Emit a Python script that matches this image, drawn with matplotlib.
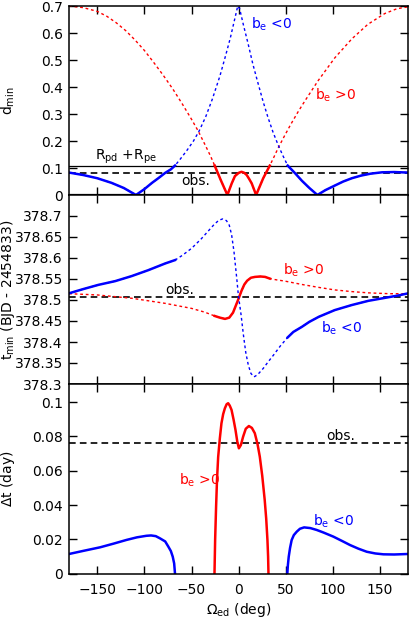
import numpy as np
import matplotlib
matplotlib.use("Agg")
import matplotlib.pyplot as plt
from matplotlib.ticker import FuncFormatter

plt.rcParams['font.family'] = ['DejaVu Sans']
plt.rcParams['mathtext.default'] = 'regular'
plt.rcParams['font.size'] = 10

BLUE = '#0000ff'
RED = '#ff0000'

# --- panel 1: d_min ---
om_dmin_neg = [-180, -165, -150, -135, -122, -109, -100, -92, -85, -78, -72, -67.6,
               -62, -55, -48, -42, -35, -28, -20, -14, -9, -5, -1,
               1, 5, 10, 15, 20.5, 26, 31, 36.5, 42, 47, 52,
               60, 67, 75, 83.5, 92, 102, 111, 120, 130, 140, 152, 165, 180]
dmin_neg = [0.083, 0.074, 0.062, 0.045, 0.026, 0.0, 0.022, 0.045, 0.063, 0.082, 0.095, 0.109,
            0.133, 0.165, 0.200, 0.237, 0.29, 0.355, 0.44, 0.515, 0.58, 0.64, 0.70,
            0.69, 0.63, 0.56, 0.485, 0.414, 0.345, 0.288, 0.232, 0.184, 0.145, 0.109,
            0.08, 0.053, 0.026, 0.0, 0.018, 0.035, 0.05, 0.062, 0.072, 0.079, 0.084, 0.085, 0.083]

om_dmin_pos = [-180, -165, -150, -140, -130, -120, -110, -100, -90, -80, -70, -60, -50, -43,
               -35, -30, -25.5,
               -19, -12, -7.4, -4, 0, 3, 6, 8.5, 11, 13.8, 18.5, 26, 33,
               38, 42, 48, 55, 63, 70, 84, 102, 120, 137, 155, 168, 180]
dmin_pos = [0.700, 0.694, 0.680, 0.662, 0.638, 0.609, 0.574, 0.535, 0.49, 0.443, 0.393, 0.338,
            0.28, 0.237, 0.181, 0.145, 0.109,
            0.055, 0.0, 0.043, 0.070, 0.082, 0.086, 0.082, 0.074, 0.06, 0.043, 0.0, 0.062, 0.109,
            0.145, 0.175, 0.215, 0.26, 0.308, 0.347, 0.422, 0.508, 0.578, 0.632, 0.672, 0.69, 0.697]

r_sum = 0.109
dmin_obs = 0.083

# --- panel 2: t_min ---
om_tmin_neg = [-180, -165, -149, -131, -113.5, -96, -78, -67.6, -60, -50, -40, -32, -26, -21,
               -17, -13, -10, -7.5, -5, -3.9, -2, -0.4, 2.5, 5, 7.5, 10.2, 13, 16.3, 20, 26,
               31, 37, 44, 52, 58, 67, 75, 85, 102, 120, 137.6, 155, 170, 180]
tmin_neg = [378.516, 378.526, 378.536, 378.545, 378.557, 378.571, 378.587, 378.595, 378.606,
            378.623, 378.645, 378.665, 378.68, 378.69, 378.693, 378.689, 378.678, 378.655,
            378.615, 378.591, 378.55, 378.512, 378.465, 378.417, 378.375, 378.345, 378.325,
            378.317, 378.322, 378.337, 378.352, 378.369, 378.39, 378.411, 378.424, 378.436,
            378.448, 378.46, 378.476, 378.488, 378.498, 378.505, 378.511, 378.516]

om_tmin_pos = [-180, -150, -113, -78, -50, -36, -25.5, -20, -14.5, -10, -6, -3, 0, 3, 6, 9,
               13, 17.3, 23, 28, 33, 40, 49, 67, 85, 102, 120, 137.6, 160, 180]
tmin_pos = [378.515, 378.512, 378.504, 378.492, 378.48, 378.471, 378.462, 378.458, 378.455,
            378.458, 378.47, 378.487, 378.504, 378.522, 378.537, 378.546, 378.553, 378.555,
            378.556, 378.555, 378.551, 378.548, 378.545, 378.537, 378.53, 378.524, 378.52,
            378.517, 378.515, 378.515]

tmin_obs = 378.508

# --- panel 3: duration ---
om_dt_neg_l = [-180, -165, -147, -133, -119, -108, -98, -93, -88, -83.5, -78, -74.7, -72,
               -70, -68.5, -67.6]
dt_neg_l = [0.0115, 0.0133, 0.0154, 0.0175, 0.0197, 0.0212, 0.0221, 0.0223, 0.0219, 0.0206,
            0.0188, 0.0158, 0.0132, 0.0099, 0.006, 0.0]
om_dt_neg_r = [51.6, 52.2, 53.1, 54.5, 56.2, 58.5, 61.6, 65, 69.4, 76, 82.8, 90, 100.5, 110,
               118.2, 127, 135.9, 145, 153.6, 165, 180]
dt_neg_r = [0.0, 0.005, 0.0099, 0.015, 0.0196, 0.0225, 0.0245, 0.0262, 0.027, 0.0266, 0.0255,
            0.024, 0.0216, 0.019, 0.0167, 0.0146, 0.0128, 0.0118, 0.0113, 0.0112, 0.0115]
om_dt_pos = [-25.7, -25, -24, -23, -21.8, -20, -18.3, -16.5, -14.7, -12.8, -11.2, -9.5, -7.6,
             -5.5, -3.4, -1.5, 0.2, 2.3, 4.7, 7.5, 10.8, 14, 17.1, 20, 22.4, 25, 27.6, 29.2,
             30.5, 31.2, 31.6]
dt_pos = [0.0, 0.02, 0.039, 0.055, 0.068, 0.079, 0.0877, 0.093, 0.0964, 0.0988, 0.0994, 0.098,
          0.0955, 0.09, 0.0838, 0.077, 0.0731, 0.075, 0.0799, 0.0845, 0.0861, 0.085, 0.0819,
          0.0755, 0.0682, 0.057, 0.043, 0.032, 0.0197, 0.01, 0.0]

dt_obs = 0.0764

blue_solid = [(-180, -67.6), (52, 180)]
red_solid = [(-25.5, 33)]


def draw(ax, om, val, color, spans):
    om = np.asarray(om, dtype=float)
    val = np.asarray(val, dtype=float)
    ax.plot(om, val, color=color, lw=1.0, ls=(0, (2, 2)))
    for lo, hi in spans:
        m = (om >= lo - 1e-9) & (om <= hi + 1e-9)
        ax.plot(om[m], val[m], color=color, lw=1.8)


def style(ax):
    ax.set_xlim(-180, 180)
    ax.set_xticks(np.arange(-150, 151, 50))
    ax.tick_params(direction='in', length=6, width=1.0, top=True, right=True,
                   labelsize=10, pad=4.5)
    ax.tick_params(axis='x', pad=6.5)
    ax.yaxis.set_major_formatter(FuncFormatter(lambda v, p: '%g' % round(v, 6)))
    for s in ax.spines.values():
        s.set_linewidth(1.1)
    ax.yaxis.set_label_coords(-0.155, 0.5)


fig = plt.figure(figsize=(4.09, 6.18), dpi=100)
W = 409.0
H = 618.0
left = 69.1 / W
width = 339.2 / W
ax1 = fig.add_axes([left, 1 - 195 / H, width, 189 / H])
ax2 = fig.add_axes([left, 1 - 384 / H, width, 189 / H])
ax3 = fig.add_axes([left, 1 - 573.7 / H, width, 189.7 / H])

# panel 1
ax1.axhline(r_sum, color='black', lw=0.9)
ax1.axhline(dmin_obs, color='black', lw=1.2, ls=(0, (4, 2.5)))
ax1.axhline(0, color='black', lw=1.6)
draw(ax1, om_dmin_pos, dmin_pos, RED, red_solid)
draw(ax1, om_dmin_neg, dmin_neg, BLUE, blue_solid)
ax1.set_ylim(0, 0.7)
ax1.set_yticks(np.arange(0, 0.71, 0.1))
ax1.set_ylabel('d$_{min}$')
ax1.text(13, 0.633, 'b$_e$ <0', color=BLUE, va='center')
ax1.text(81, 0.37, 'b$_e$ >0', color=RED, va='center')
ax1.text(-152.4, 0.141, 'R$_{pd}$ +R$_{pe}$', color='black', va='center')
ax1.text(-60.5, 0.052, 'obs.', color='black', va='center')
style(ax1)
ax1.tick_params(labelbottom=False)

# panel 2
ax2.axhline(tmin_obs, color='black', lw=1.2, ls=(0, (4, 2.5)))
draw(ax2, om_tmin_pos, tmin_pos, RED, red_solid)
draw(ax2, om_tmin_neg, tmin_neg, BLUE, blue_solid)
ax2.set_ylim(378.3, 378.75)
ax2.set_yticks(np.arange(378.3, 378.701, 0.05))
ax2.set_ylabel('t$_{min}$ (BJD - 2454833)')
ax2.text(-78, 378.525, 'obs.', color='black', va='center')
ax2.text(47.4, 378.571, 'b$_e$ >0', color=RED, va='center')
ax2.text(87.4, 378.433, 'b$_e$ <0', color=BLUE, va='center')
style(ax2)
ax2.tick_params(labelbottom=False)

# panel 3
ax3.axhline(dt_obs, color='black', lw=1.2, ls=(0, (4, 2.5)))
ax3.plot(om_dt_pos, dt_pos, color=RED, lw=1.8)
ax3.plot(om_dt_neg_l, dt_neg_l, color=BLUE, lw=1.8)
ax3.plot(om_dt_neg_r, dt_neg_r, color=BLUE, lw=1.8)
ax3.set_ylim(0, 0.1106)
ax3.set_yticks(np.arange(0, 0.101, 0.02))
ax3.set_ylabel(r'$\Delta$t (day)')
ax3.set_xlabel(r'$\Omega_{ed}$ (deg)', labelpad=3)
ax3.text(92.4, 0.0805, 'obs.', color='black', va='center')
ax3.text(-63, 0.0546, 'b$_e$ >0', color=RED, va='center')
ax3.text(79.3, 0.0307, 'b$_e$ <0', color=BLUE, va='center')
style(ax3)

fig.savefig('out.png', dpi=100)
